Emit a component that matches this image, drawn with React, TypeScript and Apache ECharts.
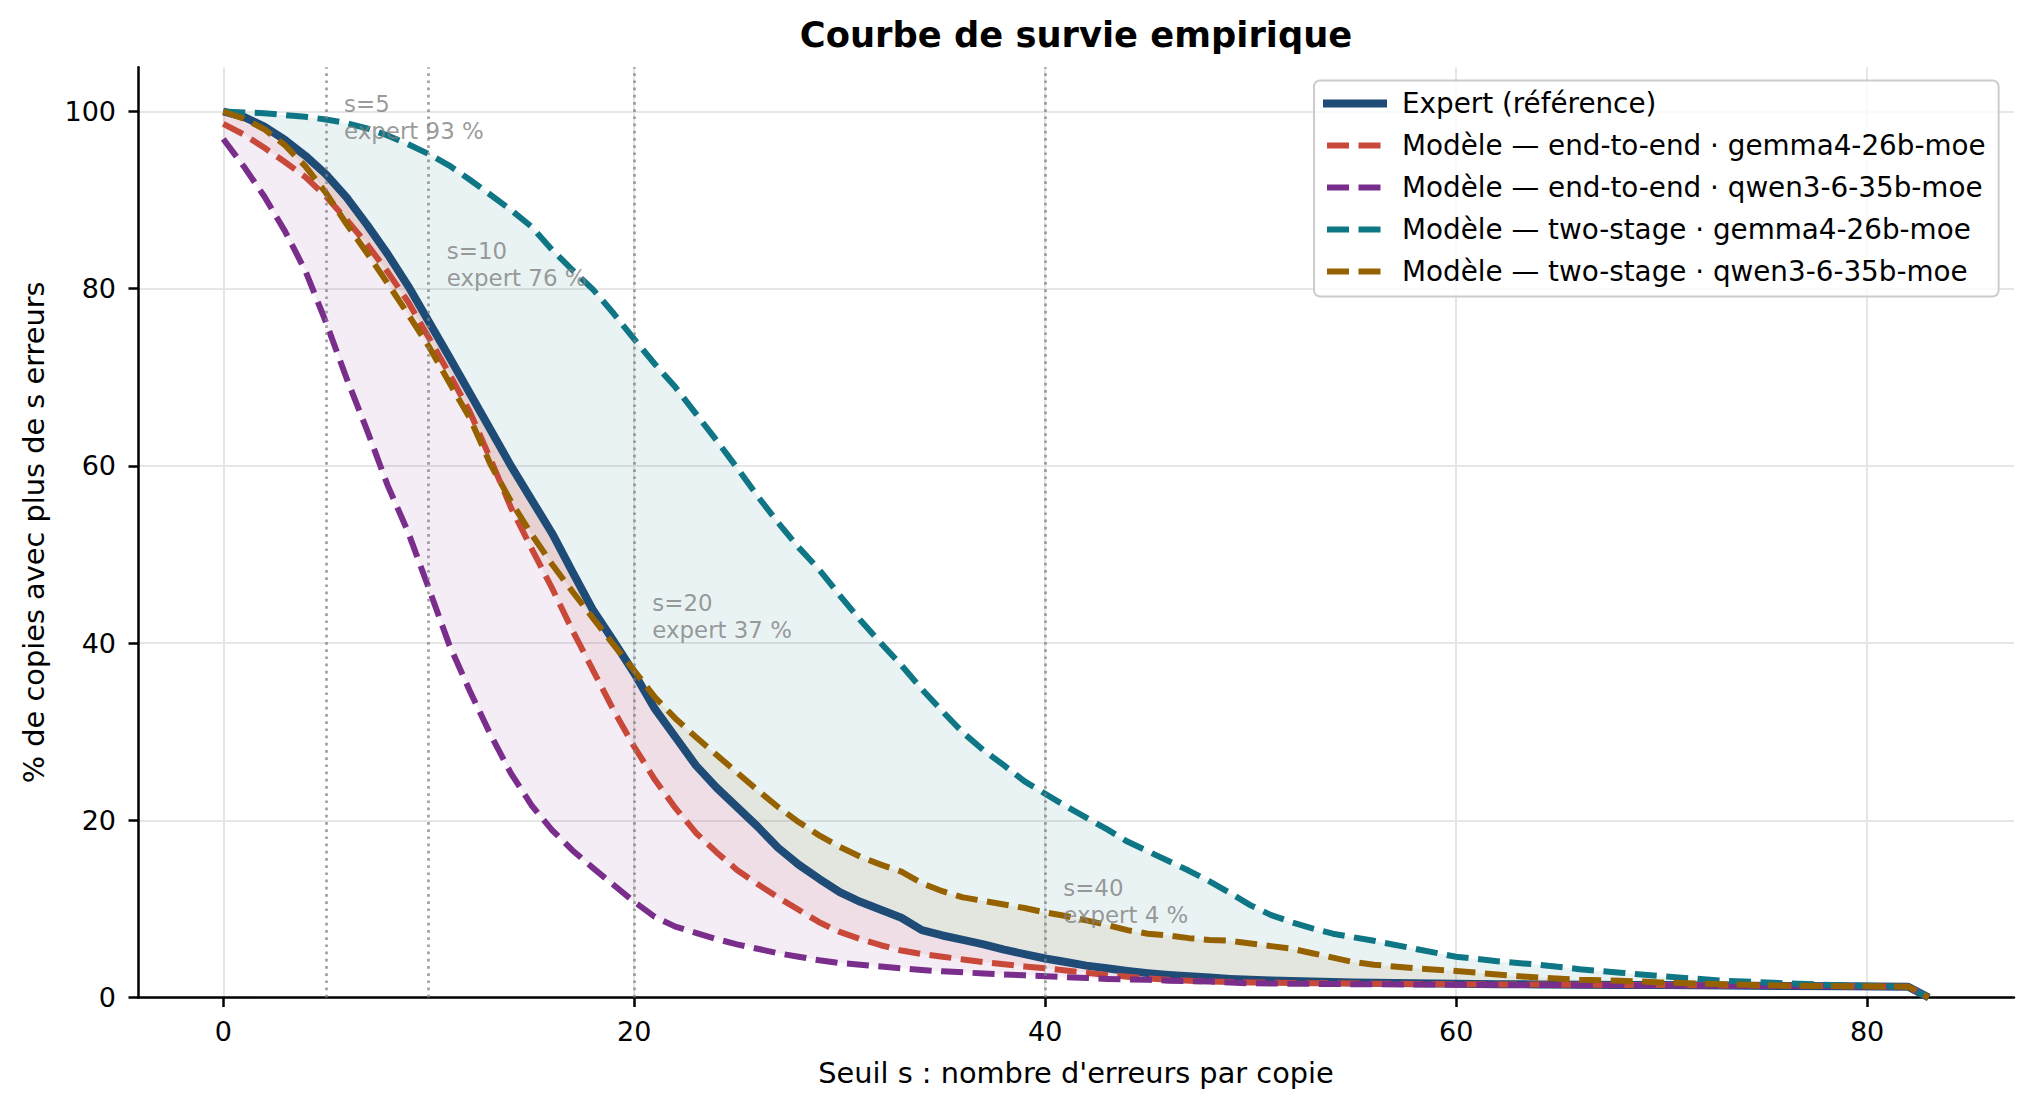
import React, { useEffect, useRef } from "react";
import * as echarts from "echarts";

// ---------- data ----------
const thresholds = [
  0, 1, 2, 3, 4, 5, 6, 7, 8, 9, 10,
  11, 12, 13, 14, 15, 16, 17, 18, 19, 20,
  21, 22, 23, 24, 25, 26, 27, 28, 29, 30,
  31, 32, 33, 34, 35, 36, 37, 38, 39, 40,
  41, 42, 43, 44, 45, 46, 47, 48, 49, 50,
  51, 52, 53, 54, 55, 56,
  58, 60, 62, 64, 66, 68, 70, 73, 76, 79, 82, 83,
];

const expert = [
  100, 99.4, 98.3, 96.8, 95.0, 92.9, 90.3, 87.2, 83.9, 80.3, 76.3,
  72.3, 68.2, 64.1, 60.0, 56.2, 52.4, 48.0, 43.7, 40.2, 36.6,
  32.6, 29.4, 26.2, 23.7, 21.5, 19.3, 16.9, 15.0, 13.4, 11.9,
  10.8, 9.9, 9.0, 7.6, 7.0, 6.5, 6.0, 5.4, 4.9, 4.4,
  4.0, 3.6, 3.3, 3.0, 2.75, 2.55, 2.4, 2.25, 2.1, 2.0,
  1.92, 1.86, 1.8, 1.75, 1.7, 1.66,
  1.6, 1.55, 1.5, 1.48, 1.45, 1.42, 1.4, 1.35, 1.3, 1.26, 1.22, 0,
];

const endToEndGemma = [
  98.6, 97.4, 95.9, 94.3, 92.6, 90.4, 87.8, 85.0, 81.9, 78.5, 74.5,
  70.4, 66.1, 60.8, 55.3, 50.7, 46.2, 41.4, 36.9, 32.4, 28.3,
  24.6, 21.4, 18.6, 16.4, 14.4, 12.8, 11.3, 9.9, 8.5, 7.4,
  6.6, 5.9, 5.3, 4.9, 4.6, 4.3, 4.0, 3.75, 3.5, 3.3,
  3.05, 2.8, 2.55, 2.35, 2.15, 2.0, 1.9, 1.8, 1.75, 1.7,
  1.68, 1.65, 1.62, 1.6, 1.58, 1.56,
  1.53, 1.5, 1.48, 1.46, 1.44, 1.42, 1.4, 1.36, 1.32, 1.28, 1.22, 0,
];

const endToEndQwen = [
  96.9, 93.8, 90.4, 86.5, 82.0, 76.2, 69.9, 64.0, 57.8, 52.5, 46.2,
  39.8, 34.6, 29.7, 25.3, 21.7, 18.9, 16.6, 14.6, 12.7, 10.8,
  9.1, 8.0, 7.3, 6.6, 6.0, 5.5, 5.0, 4.6, 4.2, 3.9,
  3.7, 3.5, 3.3, 3.1, 2.95, 2.85, 2.7, 2.6, 2.5, 2.4,
  2.3, 2.2, 2.1, 2.05, 2.0, 1.9, 1.85, 1.8, 1.7, 1.6,
  1.58, 1.56, 1.54, 1.52, 1.5, 1.49,
  1.47, 1.45, 1.43, 1.41, 1.39, 1.37, 1.35, 1.32, 1.3, 1.26, 1.22, 0,
];

const twoStageGemma = [
  100, 99.9, 99.8, 99.6, 99.4, 99.1, 98.7, 98.1, 97.3, 96.3, 95.2,
  93.9, 92.3, 90.6, 88.9, 87.0, 84.4, 82.1, 79.9, 77.2, 74.3,
  71.5, 68.9, 65.9, 62.9, 59.8, 56.6, 53.6, 50.8, 48.3, 45.4,
  42.6, 40.0, 37.5, 34.8, 32.3, 29.9, 27.9, 26.2, 24.4, 23.0,
  21.6, 20.3, 19.0, 17.6, 16.5, 15.4, 14.3, 13.1, 11.8, 10.4,
  9.3, 8.5, 7.8, 7.2, 6.8, 6.4,
  5.5, 4.6, 4.1, 3.7, 3.2, 2.8, 2.4, 1.9, 1.6, 1.35, 1.22, 0,
];

const twoStageQwen = [
  100, 99.2, 98.0, 96.2, 93.8, 90.8, 87.3, 84.0, 80.6, 77.1, 73.5,
  69.4, 65.4, 60.2, 56.0, 52.3, 48.9, 45.8, 42.8, 39.8, 36.9,
  33.9, 31.5, 29.4, 27.4, 25.4, 23.4, 21.5, 19.8, 18.3, 17.0,
  15.9, 15.0, 14.2, 12.9, 12.0, 11.3, 10.9, 10.5, 10.1, 9.6,
  9.2, 8.7, 8.2, 7.6, 7.2, 7.0, 6.7, 6.5, 6.4, 6.1,
  5.8, 5.5, 5.0, 4.5, 4.0, 3.7,
  3.3, 3.0, 2.6, 2.25, 2.0, 1.9, 1.7, 1.5, 1.35, 1.28, 1.22, 0,
];

const seriesNames = [
  "Expert (référence)",
  "Modèle — end-to-end · gemma4-26b-moe",
  "Modèle — end-to-end · qwen3-6-35b-moe",
  "Modèle — two-stage · gemma4-26b-moe",
  "Modèle — two-stage · qwen3-6-35b-moe",
];

const xTicks = [0, 20, 40, 60, 80];
const yTicks = [0, 20, 40, 60, 80, 100];
const markedThresholds = [5, 10, 20, 40];

// ---------- styles ----------
const FONT = "'DejaVu Sans', sans-serif";
const EXPERT_COLOR = "#1f4b77";
const MODEL_COLORS = ["#c8483a", "#7a2e8c", "#0e7684", "#966200"];
const DASH = [22, 9.5];
const EXPERT_WIDTH = 8;
const MODEL_WIDTH = 6;

function rgba(hex: string, a: number) {
  const r = parseInt(hex.slice(1, 3), 16);
  const g = parseInt(hex.slice(3, 5), 16);
  const b = parseInt(hex.slice(5, 7), 16);
  return `rgba(${r},${g},${b},${a})`;
}

export default function App() {
  const ref = useRef<HTMLDivElement>(null);

  useEffect(() => {
    if (!ref.current) return;
    const chart = echarts.init(ref.current, undefined, { renderer: "svg" });

    const models = [endToEndGemma, endToEndQwen, twoStageGemma, twoStageQwen];
    const pairs = (arr: number[]) => thresholds.map((s, i) => [s, arr[i]]);
    const expertAt = (s: number) => expert[thresholds.indexOf(s)];

    const fillSeries = {
      type: "custom",
      name: "fills",
      silent: true,
      z: 1,
      data: models.map((_, i) => [i, 0]),
      renderItem: (params: any, api: any) => {
        const m = models[params.dataIndex];
        const pts: number[][] = [];
        for (let k = 0; k < thresholds.length; k++) pts.push(api.coord([thresholds[k], m[k]]));
        for (let k = thresholds.length - 1; k >= 0; k--) pts.push(api.coord([thresholds[k], expert[k]]));
        return {
          type: "polygon",
          shape: { points: pts },
          style: { fill: rgba(MODEL_COLORS[params.dataIndex], 0.085), stroke: "none" },
          silent: true,
        };
      },
    };

    const lineSeries: any[] = [
      {
        type: "line",
        name: seriesNames[0],
        data: pairs(expert),
        symbol: "none",
        showSymbol: false,
        silent: true,
        z: 2,
        itemStyle: { color: EXPERT_COLOR },
        lineStyle: { color: EXPERT_COLOR, width: EXPERT_WIDTH, join: "round" },
      },
      ...models.map((m, i) => ({
        type: "line",
        name: seriesNames[i + 1],
        data: pairs(m),
        symbol: "none",
        showSymbol: false,
        silent: true,
        z: 3 + i,
        itemStyle: { color: MODEL_COLORS[i] },
        lineStyle: { color: MODEL_COLORS[i], width: MODEL_WIDTH, type: DASH, cap: "butt", join: "round" },
      })),
    ];

    const annotationSeries = {
      type: "scatter",
      name: "annotations",
      silent: true,
      z: 20,
      symbolSize: 1,
      itemStyle: { color: "rgba(0,0,0,0)" },
      data: markedThresholds.map((s) => ({
        value: [s + 0.88, expertAt(s) + 6.4],
        label: {
          formatter: `s=${s}\nexpert ${Math.round(expertAt(s))} %`,
        },
      })),
      label: {
        show: true,
        position: "inside",
        align: "left",
        verticalAlign: "middle",
        fontFamily: FONT,
        fontSize: 22.9,
        lineHeight: 27,
        color: "#808080",
      },
      markLine: {
        silent: true,
        symbol: "none",
        z: 10,
        label: { show: false },
        emphasis: { disabled: true },
        lineStyle: { color: "rgba(128,128,128,0.75)", width: 2.7, type: [2.7, 4.5] },
        data: markedThresholds.map((s) => ({ xAxis: s })),
      },
    };

    const legendData = seriesNames.map((name, i) => ({
      name,
      itemStyle: { opacity: 0 },
      lineStyle:
        i === 0
          ? { color: EXPERT_COLOR, width: EXPERT_WIDTH, type: "solid" }
          : { color: MODEL_COLORS[i - 1], width: MODEL_WIDTH, type: DASH, dashOffset: -4, cap: "butt" },
    }));

    const option: any = {
      animation: false,
      backgroundColor: "#ffffff",
      textStyle: { fontFamily: FONT },
      title: {
        text: "Courbe de survie empirique",
        left: 1076,
        top: 14.7,
        textAlign: "center",
        padding: 0,
        textStyle: { fontFamily: FONT, fontSize: 35.3, fontWeight: "bold", color: "#000", lineHeight: 40 },
      },
      grid: { left: 138, right: 22, top: 67.2, bottom: 114.5, containLabel: false, outerBoundsMode: "none" },
      xAxis: {
        type: "value",
        min: -4.15,
        max: 87.15,
        name: "Seuil s : nombre d'erreurs par copie",
        nameLocation: "middle",
        nameGap: 75,
        nameTextStyle: { fontFamily: FONT, fontSize: 28.8, color: "#000", verticalAlign: "middle" },
        axisLine: { show: true, onZero: false, lineStyle: { color: "#000", width: 2.5 } },
        axisTick: { show: true, length: 9.5, customValues: xTicks, lineStyle: { color: "#000", width: 2.5 } },
        axisLabel: {
          customValues: xTicks,
          fontFamily: FONT,
          fontSize: 27,
          color: "#000",
          margin: 34,
          verticalAlign: "middle",
        },
        splitLine: { show: true, lineStyle: { color: "#e6e6e6", width: 2 } },
      },
      yAxis: {
        type: "value",
        min: 0,
        max: 105,
        name: "% de copies avec plus de s erreurs",
        nameLocation: "middle",
        nameGap: 104,
        nameRotate: 90,
        nameTextStyle: { fontFamily: FONT, fontSize: 28.8, color: "#000", verticalAlign: "middle" },
        axisLine: { show: true, onZero: false, lineStyle: { color: "#000", width: 2.5 } },
        axisTick: { show: true, length: 9.5, customValues: yTicks, lineStyle: { color: "#000", width: 2.5 } },
        axisLabel: {
          customValues: yTicks,
          fontFamily: FONT,
          fontSize: 27,
          color: "#000",
          margin: 22,
        },
        splitLine: { show: true, lineStyle: { color: "#e6e6e6", width: 2 } },
      },
      legend: {
        orient: "vertical",
        left: 1314,
        top: 80.5,
        data: legendData,
        itemWidth: 64,
        itemHeight: 30,
        itemGap: 12,
        padding: [8, 13, 10, 5],
        backgroundColor: "rgba(255,255,255,0.8)",
        borderColor: "#cccccc",
        borderWidth: 2,
        borderRadius: 6,
        selectedMode: false,
        itemStyle: { opacity: 0 },
        textStyle: { fontFamily: FONT, fontSize: 27.8, color: "#000", lineHeight: 30, padding: [0, 0, 0, 10] },
      },
      series: [fillSeries, ...lineSeries, annotationSeries],
    };

    chart.setOption(option);
    return () => chart.dispose();
  }, []);

  return (
    <div
      ref={ref}
      style={{ position: "fixed", left: 0, top: 0, width: "2036px", height: "1112px", background: "#fff" }}
    />
  );
}
